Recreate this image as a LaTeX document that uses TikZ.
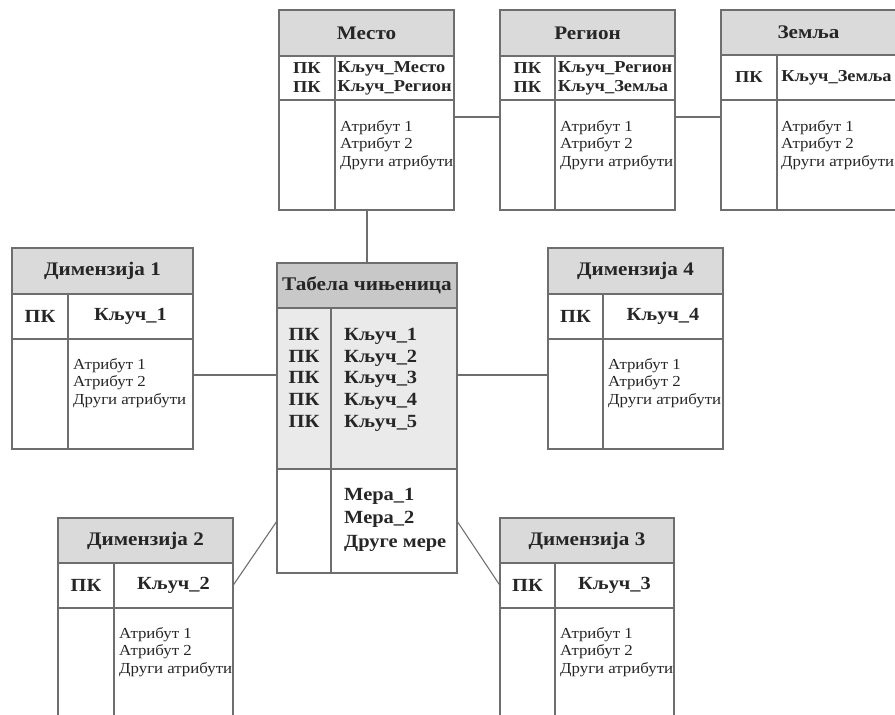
\documentclass[tikz,border=0pt]{standalone}
\usepackage{fontspec}
\setmainfont[FakeStretch=1.1]{Liberation Serif}
\definecolor{rulegray}{HTML}{6E6E6E}
\definecolor{headgray}{HTML}{DADADA}
\definecolor{facthead}{HTML}{C8C8C8}
\definecolor{factbody}{HTML}{EAEAEA}
\definecolor{inkgray}{HTML}{262626}
\begin{document}
\begin{tikzpicture}
    [x=1pt,y=-1pt,
    cell/.style={shape=rectangle,draw=rulegray,line width=1.2pt,anchor=north west,inner sep=0pt,outer sep=0pt,text=inkgray},
    head/.style={cell,fill=headgray,font=\fontsize{19.2}{20}\selectfont\bfseries},
    key/.style={cell,align=center,font=\fontsize{16.7}{19}\selectfont\bfseries},
    dkey/.style={cell,align=center,font=\fontsize{18.5}{19}\selectfont\bfseries},
    attr/.style={anchor=north west,align=left,inner sep=0pt,text=inkgray,font=\fontsize{15.3}{17.8}\selectfont},
    fkey/.style={anchor=north west,align=left,inner sep=0pt,text=inkgray,font=\fontsize{18.6}{21.7}\selectfont\bfseries},
    edge/.style={draw=rulegray,line width=1.1pt}]

    \useasboundingbox (0,0) rectangle (895,715);
    \clip (0,0) rectangle (895,715);

    % Mesto
    \node (mesto) [head,minimum width=175,minimum height=46] at (279,10) {Место};
    \node (mestoKL) [key,minimum width=56,minimum height=44] at (mesto.south west) {ПК\\ПК};
    \node (mestoKR) [key,align=left,minimum width=119,minimum height=44] at (mestoKL.north east) {Кључ\_Место\\Кључ\_Регион};
    \node (mestoAL) [cell,minimum width=56,minimum height=110] at (mestoKL.south west) {};
    \node (mestoAR) [cell,minimum width=119,minimum height=110] at (mestoAL.north east) {};
    \node [attr] at ([xshift=5,yshift=-20]mestoAR.north west) {Атрибут 1\\Атрибут 2\\Други атрибути};

    % Region
    \node (region) [head,minimum width=175,minimum height=46] at (500,10) {Регион};
    \node (regionKL) [key,minimum width=55,minimum height=44] at (region.south west) {ПК\\ПК};
    \node (regionKR) [key,align=left,minimum width=120,minimum height=44] at (regionKL.north east) {Кључ\_Регион\\Кључ\_Земља};
    \node (regionAL) [cell,minimum width=55,minimum height=110] at (regionKL.south west) {};
    \node (regionAR) [cell,minimum width=120,minimum height=110] at (regionAL.north east) {};
    \node [attr] at ([xshift=5,yshift=-20]regionAR.north west) {Атрибут 1\\Атрибут 2\\Други атрибути};

    % Zemlja
    \node (zemlja) [head,minimum width=175,minimum height=45] at (721,10) {Земља};
    \node (zemljaKL) [key,minimum width=56,minimum height=45] at (zemlja.south west) {ПК};
    \node (zemljaKR) [key,align=left,minimum width=119,minimum height=45] at (zemljaKL.north east) {Кључ\_Земља};
    \node (zemljaAL) [cell,minimum width=56,minimum height=110] at (zemljaKL.south west) {};
    \node (zemljaAR) [cell,minimum width=119,minimum height=110] at (zemljaAL.north east) {};
    \node [attr] at ([xshift=4,yshift=-20]zemljaAR.north west) {Атрибут 1\\Атрибут 2\\Други атрибути};

    % Dimenzija 1
    \node (dim1) [head,minimum width=181,minimum height=46] at (12,248) {Димензија 1};
    \node (dim1KL) [dkey,minimum width=56,minimum height=45] at (dim1.south west) {ПК};
    \node (dim1KR) [dkey,minimum width=125,minimum height=45] at (dim1KL.north east) {Кључ\_1};
    \node (dim1AL) [cell,minimum width=56,minimum height=110] at (dim1KL.south west) {};
    \node (dim1AR) [cell,minimum width=125,minimum height=110] at (dim1AL.north east) {};
    \node [attr] at ([xshift=5,yshift=-19]dim1AR.north west) {Атрибут 1\\Атрибут 2\\Други атрибути};

    % Dimenzija 4
    \node (dim4) [head,minimum width=175,minimum height=46] at (548,248) {Димензија 4};
    \node (dim4KL) [dkey,minimum width=55,minimum height=45] at (dim4.south west) {ПК};
    \node (dim4KR) [dkey,minimum width=120,minimum height=45] at (dim4KL.north east) {Кључ\_4};
    \node (dim4AL) [cell,minimum width=55,minimum height=110] at (dim4KL.south west) {};
    \node (dim4AR) [cell,minimum width=120,minimum height=110] at (dim4AL.north east) {};
    \node [attr] at ([xshift=5,yshift=-19]dim4AR.north west) {Атрибут 1\\Атрибут 2\\Други атрибути};

    % Dimenzija 2
    \node (dim2) [head,minimum width=175,minimum height=45] at (58,518) {Димензија 2};
    \node (dim2KL) [dkey,minimum width=56,minimum height=45] at (dim2.south west) {ПК};
    \node (dim2KR) [dkey,minimum width=119,minimum height=45] at (dim2KL.north east) {Кључ\_2};
    \node (dim2AL) [cell,minimum width=56,minimum height=112] at (dim2KL.south west) {};
    \node (dim2AR) [cell,minimum width=119,minimum height=112] at (dim2AL.north east) {};
    \node [attr] at ([xshift=5,yshift=-19]dim2AR.north west) {Атрибут 1\\Атрибут 2\\Други атрибути};

    % Dimenzija 3
    \node (dim3) [head,minimum width=174,minimum height=45] at (500,518) {Димензија 3};
    \node (dim3KL) [dkey,minimum width=55,minimum height=45] at (dim3.south west) {ПК};
    \node (dim3KR) [dkey,minimum width=119,minimum height=45] at (dim3KL.north east) {Кључ\_3};
    \node (dim3AL) [cell,minimum width=55,minimum height=112] at (dim3KL.south west) {};
    \node (dim3AR) [cell,minimum width=119,minimum height=112] at (dim3AL.north east) {};
    \node [attr] at ([xshift=5,yshift=-19]dim3AR.north west) {Атрибут 1\\Атрибут 2\\Други атрибути};

    % Tabela cinjenica
    \node (fact) [head,fill=facthead,font=\fontsize{19.3}{22}\selectfont\bfseries,minimum width=180,minimum height=45] at (277,263) {Табела чињеница};
    \node (factKL) [cell,fill=factbody,minimum width=54,minimum height=161] at (fact.south west) {};
    \node (factKR) [cell,fill=factbody,minimum width=126,minimum height=161] at (factKL.north east) {};
    \node (factML) [cell,minimum width=54,minimum height=104] at (factKL.south west) {};
    \node (factMR) [cell,minimum width=126,minimum height=104] at (factML.north east) {};
    \node [fkey,anchor=north,align=center] at ([yshift=-20]factKL.north) {ПК\\ПК\\ПК\\ПК\\ПК};
    \node [fkey] at ([xshift=13,yshift=-20]factKR.north west) {Кључ\_1\\Кључ\_2\\Кључ\_3\\Кључ\_4\\Кључ\_5};
    \node [fkey,font=\fontsize{18.6}{23.5}\selectfont\bfseries] at ([xshift=13,yshift=-19]factMR.north west) {Мера\_1\\Мера\_2\\Друге мере};

    % veze
    \coordinate (mr) at ([yshift=-17]mestoAR.north east);
    \coordinate (rz) at ([yshift=-17]regionAR.north east);
    \coordinate (d1) at ([yshift=-36]dim1AR.north east);
    \coordinate (d4) at ([yshift=-36]dim4AL.north west);
    \draw [edge] (fact.north) -- (fact.north |- mestoAR.south);
    \draw [edge] (mr) -- (mr -| regionAL.west);
    \draw [edge] (rz) -- (rz -| zemljaAL.west);
    \draw [edge] (d1) -- (d1 -| factKL.west);
    \draw [edge] (d4) -- (d4 -| factKR.east);
    \draw [edge] (dim2KR.east) -- (factML.west);
    \draw [edge] (factMR.east) -- (dim3KL.west);

\end{tikzpicture}
\end{document}
